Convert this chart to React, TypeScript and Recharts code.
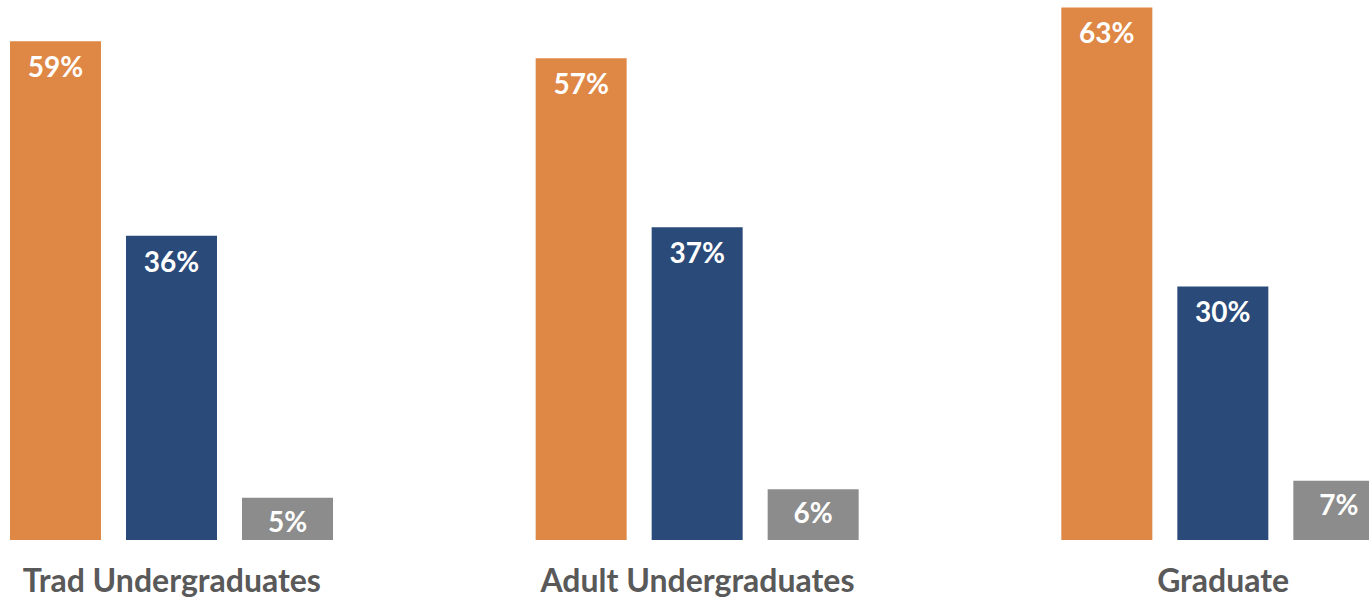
import React from 'react';
import { Bar, BarChart, LabelList, XAxis, YAxis } from 'recharts';

const groups = ['Trad Undergraduates', 'Adult Undergraduates', 'Graduate'];
const orangeValues = [59, 57, 63];
const blueValues = [36, 37, 30];
const grayValues = [5, 6, 7];

const data = groups.map((name, i) => ({
  name,
  orange: orangeValues[i],
  blue: blueValues[i],
  gray: grayValues[i],
}));

const font = 'Lato, "Open Sans", sans-serif';

const GroupTick = (props: any) => {
  const { x, y, payload } = props;
  return (
    <text x={x} y={y} dy={52} textAnchor="middle" fill="#595959" fontFamily={font} fontWeight={700} fontSize={32}>
      {payload.value}
    </text>
  );
};

const pct = (v: any) => `${v}%`;

const labelStyle = { fill: '#ffffff', fontFamily: font, fontWeight: 700, fontSize: 28 };

const App: React.FC = () => (
  <div style={{ position: 'absolute', left: 0, top: 0, width: 1369, height: 599, overflow: 'hidden', background: '#fff' }}>
    <div style={{ position: 'absolute', left: -91, top: -1 }}>
      <BarChart
        width={1577}
        height={601}
        data={data}
        margin={{ top: 0, right: 0, bottom: 0, left: 0 }}
        barSize={91}
        barGap={25}
      >
        <XAxis dataKey="name" axisLine={false} tickLine={false} tickSize={0} tickMargin={0} height={60} tick={<GroupTick />} interval={0} />
        <YAxis hide domain={[0, 64]} />
        <Bar dataKey="orange" fill="#DF8745" isAnimationActive={false}>
          <LabelList dataKey="orange" position="insideTop" offset={16} formatter={pct} style={labelStyle} />
        </Bar>
        <Bar dataKey="blue" fill="#2A4A7A" isAnimationActive={false}>
          <LabelList dataKey="blue" position="insideTop" offset={16} formatter={pct} style={labelStyle} />
        </Bar>
        <Bar dataKey="gray" fill="#8C8C8C" isAnimationActive={false}>
          <LabelList dataKey="gray" position="insideTop" offset={14} formatter={pct} style={labelStyle} />
        </Bar>
      </BarChart>
    </div>
  </div>
);

export default App;
